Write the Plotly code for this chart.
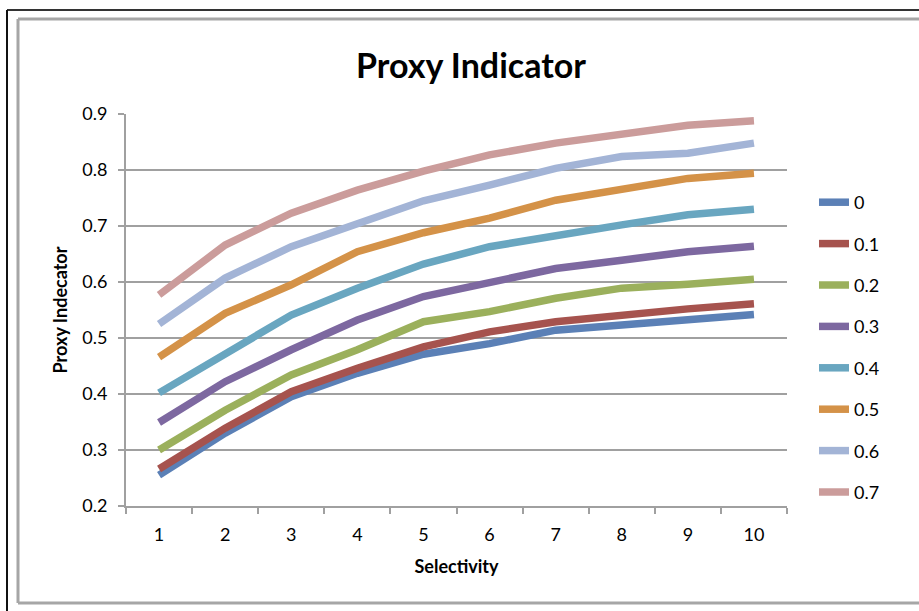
import plotly.graph_objects as go

W, H = 919, 611
L, R, T, B = 126, 787, 114, 506

selectivity = ["1", "2", "3", "4", "5", "6", "7", "8", "9", "10"]
series_names = ["0", "0.1", "0.2", "0.3", "0.4", "0.5", "0.6", "0.7"]

s0 = [0.255, 0.330, 0.395, 0.437, 0.471, 0.490, 0.514, 0.523, 0.534, 0.542]
s1 = [0.266, 0.339, 0.404, 0.446, 0.484, 0.511, 0.529, 0.541, 0.552, 0.561]
s2 = [0.300, 0.371, 0.434, 0.479, 0.529, 0.547, 0.571, 0.589, 0.596, 0.605]
s3 = [0.349, 0.422, 0.479, 0.532, 0.574, 0.598, 0.624, 0.639, 0.654, 0.664]
s4 = [0.402, 0.473, 0.541, 0.589, 0.632, 0.663, 0.684, 0.702, 0.720, 0.730]
s5 = [0.466, 0.544, 0.595, 0.654, 0.688, 0.714, 0.746, 0.767, 0.785, 0.794]
s6 = [0.525, 0.607, 0.663, 0.705, 0.745, 0.773, 0.803, 0.824, 0.830, 0.848]
s7 = [0.577, 0.666, 0.723, 0.764, 0.798, 0.827, 0.848, 0.865, 0.880, 0.888]
values = [s0, s1, s2, s3, s4, s5, s6, s7]

colors = ["#5b80b6", "#a6534e", "#9bb05c", "#7d68a0", "#69a6c0", "#d49248", "#a3b4d6", "#cb9c9b"]

FONT = "Lato"

fig = go.Figure()
for name, vals, col in zip(series_names, values, colors):
    fig.add_trace(go.Scatter(
        x=selectivity, y=vals, name=name, mode="lines",
        line=dict(color=col, width=7.5), legendgroup=name,
    ))

def px_to_paper_x(px):
    return (px - L) / (R - L)

def px_to_paper_y(py):
    return (B - py) / (B - T)

shapes = [
    dict(type="line", xref="paper", yref="paper",
         x0=px_to_paper_x(7), x1=px_to_paper_x(W + 5), y0=px_to_paper_y(10), y1=px_to_paper_y(10),
         line=dict(color="#333333", width=2)),
    dict(type="line", xref="paper", yref="paper",
         x0=px_to_paper_x(7), x1=px_to_paper_x(7), y0=px_to_paper_y(10), y1=px_to_paper_y(H + 5),
         line=dict(color="#111111", width=2)),
    dict(type="line", xref="paper", yref="paper",
         x0=px_to_paper_x(18), x1=px_to_paper_x(W + 5), y0=px_to_paper_y(19), y1=px_to_paper_y(19),
         line=dict(color="#a6a6a6", width=3)),
    dict(type="line", xref="paper", yref="paper",
         x0=px_to_paper_x(18), x1=px_to_paper_x(18), y0=px_to_paper_y(19), y1=px_to_paper_y(603),
         line=dict(color="#a6a6a6", width=3)),
    dict(type="line", xref="paper", yref="paper",
         x0=px_to_paper_x(18), x1=px_to_paper_x(W + 5), y0=px_to_paper_y(603), y1=px_to_paper_y(603),
         line=dict(color="#a6a6a6", width=3)),
]

fig.update_layout(
    width=W, height=H,
    margin=dict(l=L, r=W - R, t=T, b=H - B),
    paper_bgcolor="white", plot_bgcolor="white",
    font=dict(family=FONT, size=18, color="#000000"),
    title=dict(text="<b>Proxy Indicator</b>", font=dict(family=FONT, size=34, color="#000000"),
               x=px_to_paper_x(471), xref="paper", xanchor="center",
               y=1 - 66 / H, yref="container", yanchor="middle"),
    showlegend=True,
    legend=dict(x=px_to_paper_x(814), xanchor="left", y=px_to_paper_y(184), yanchor="top",
                font=dict(family=FONT, size=18, color="#000000"),
                tracegroupgap=15, traceorder="grouped", bgcolor="rgba(0,0,0,0)"),
    shapes=shapes,
)

fig.update_xaxes(
    type="category", range=[-0.5, 9.5], tickson="boundaries", ticks="outside", ticklen=6, tickwidth=2,
    tickcolor="#a0a0a0", showline=True, linecolor="#a0a0a0", linewidth=2,
    showgrid=False, zeroline=False,
    tickfont=dict(family=FONT, size=18, color="#000000"),
    ticklabelstandoff=11,
    title=dict(text="<b>Selectivity</b>", font=dict(family=FONT, size=18, color="#000000"), standoff=17),
)
fig.update_yaxes(
    range=[0.2, 0.9], dtick=0.1, tick0=0.2, tickformat=".1f",
    ticks="outside", ticklen=6, tickwidth=2, tickcolor="#a0a0a0",
    showline=True, linecolor="#a0a0a0", linewidth=2,
    showgrid=True, gridcolor="#a0a0a0", gridwidth=2, zeroline=False,
    tickfont=dict(family=FONT, size=18, color="#000000"),
    ticklabelstandoff=7,
    title=dict(text="<b>Proxy Indecator</b>", font=dict(family=FONT, size=18, color="#000000"), standoff=10),
)

fig.write_html("out.html")
